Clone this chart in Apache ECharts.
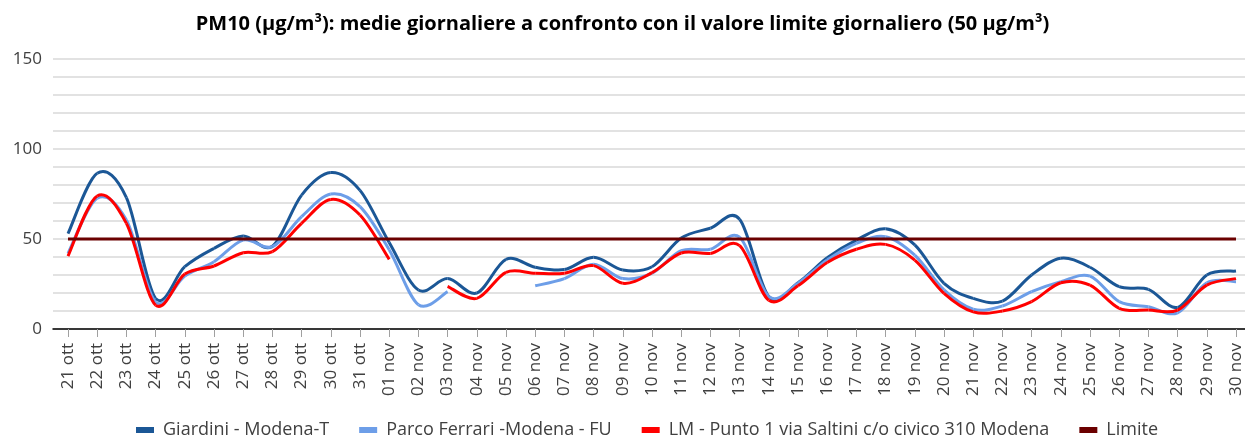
<!DOCTYPE html>
<html>
<head>
<meta charset="utf-8">
<script src="https://cdn.jsdelivr.net/npm/echarts@6/dist/echarts.min.js"></script>
<style>
  html, body { margin: 0; padding: 0; background: #fff; }
  #chart { width: 1245px; height: 439px; }
</style>
</head>
<body>
<div id="chart"></div>
<script>
// PM10 daily means, Modena stations

let days = ["21 ott", "22 ott", "23 ott", "24 ott", "25 ott", "26 ott", "27 ott", "28 ott", "29 ott", "30 ott", "31 ott",
    "01 nov", "02 nov", "03 nov", "04 nov", "05 nov", "06 nov", "07 nov", "08 nov", "09 nov", "10 nov",
    "11 nov", "12 nov", "13 nov", "14 nov", "15 nov", "16 nov", "17 nov", "18 nov", "19 nov", "20 nov",
    "21 nov", "22 nov", "23 nov", "24 nov", "25 nov", "26 nov", "27 nov", "28 nov", "29 nov", "30 nov"];

let giardini = [53, 86.5, 73, 17, 34.6, 44.8, 51.7, 46, 74.4, 86.9, 77,
    48, 21.7, 28, 20, 38.7, 34.3, 33, 39.8, 32.8, 34.6,
    50.5, 56, 61, 18, 25.7, 39.6, 49.4, 55.7, 46.7, 25.4,
    17, 15.5, 30, 39.3, 34.3, 23.5, 22, 12, 30, 32.2];

let parco_ferrari = [42, 72.6, 60.5, 15, 29.4, 37.4, 49.4, 45.7, 62.4, 75, 68,
    44, 13.5, 20.7, null, null, 24, 28, 36, 28, 31,
    43.5, 44.3, 51, 18, 25.4, 38.3, 47.6, 51.3, 41, 21.7,
    11, 12.8, 20.7, 26.3, 29.4, 15.2, 12.4, 9, 25.7, 26.3];

let lm_saltini = [40.5, 73.9, 58.7, 13.3, 30.5, 35, 42.4, 43, 58.7, 72, 63.3,
    38.7, null, 23.7, 17, 31.5, 31, 31, 35.2, 25.4, 31.3,
    42.2, 42, 46.3, 16, 24, 36.9, 44.3, 47, 38.3, 19.8,
    9.5, 10, 15.2, 25.7, 24.4, 11.5, 10.5, 10.5, 24.4, 28];

let limite = [50, 50, 50, 50, 50, 50, 50, 50, 50, 50, 50,
    50, 50, 50, 50, 50, 50, 50, 50, 50, 50,
    50, 50, 50, 50, 50, 50, 50, 50, 50, 50,
    50, 50, 50, 50, 50, 50, 50, 50, 50, 50];

let y_ticks = [0, 50, 100, 150];

let chart = echarts.init(document.getElementById("chart"));

// Excel-like smoothed line: one cubic bezier per segment (Catmull-Rom, tension 1/6)
function make_smooth_line(name, values, color) {
    return {
        name: name,
        type: "custom",
        xAxisIndex: 1,
        yAxisIndex: 1,
        data: values.map(function (v, i) { return [i, v]; }),
        encode: { x: 0, y: 1 },
        itemStyle: { color: color },
        renderItem: function (params, api) {
            let i = params.dataIndex;
            let v0 = values[i], v1 = values[i + 1];
            if (v0 == null || v1 == null) return null;
            let p0 = api.coord([i, v0]);
            let p1 = api.coord([i + 1, v1]);
            let pm = (i > 0 && values[i - 1] != null) ? api.coord([i - 1, values[i - 1]]) : p0;
            let p2 = (i + 2 < values.length && values[i + 2] != null) ? api.coord([i + 2, values[i + 2]]) : p1;
            return {
                type: "bezierCurve",
                shape: {
                    x1: p0[0], y1: p0[1],
                    x2: p1[0], y2: p1[1],
                    cpx1: p0[0] + (p1[0] - pm[0]) / 6,
                    cpy1: p0[1] + (p1[1] - pm[1]) / 6,
                    cpx2: p1[0] - (p2[0] - p0[0]) / 6,
                    cpy2: p1[1] - (p2[1] - p0[1]) / 6
                },
                style: { stroke: color, lineWidth: 3, fill: null }
            };
        }
    };
}

let option = {
    animation: false,
    backgroundColor: "#fff",
    textStyle: { fontFamily: "Open Sans" },
    title: {
        text: "PM10 (µg/m³): medie giornaliere a confronto con il valore limite giornaliero (50 µg/m³)",
        left: "center",
        top: 9,
        textStyle: { fontSize: 20, fontWeight: "bold", color: "#000", fontFamily: "Open Sans" }
    },
    legend: {
        top: 416,
        left: 131,
        itemWidth: 18,
        itemHeight: 6,
        itemGap: 30,
        icon: "rect",
        textStyle: { fontSize: 18, color: "#404040", fontFamily: "Open Sans", padding: [0, 0, 0, 4] },
        data: ["Giardini - Modena-T", "Parco Ferrari -Modena - FU", "LM - Punto 1 via Saltini c/o civico 310 Modena", "Limite"]
    },
    grid: [
        // background grid: gridlines + axis line across full width
        { left: 53, right: 0, top: 59, bottom: 110 },
        // data grid: first/last day sit on the tick marks
        { left: 68, right: 9, top: 59, bottom: 110 }
    ],
    xAxis: [
        {
            gridIndex: 0, type: "value", min: 0, max: 1,
            axisLine: { show: true, lineStyle: { color: "#000", width: 1.5 } },
            axisTick: { show: false }, axisLabel: { show: false }, splitLine: { show: false }
        },
        {
            gridIndex: 1, type: "category", data: days, boundaryGap: false,
            axisLine: { show: false },
            axisTick: { show: true, length: 8, alignWithLabel: true, lineStyle: { color: "#a0a0a0" } },
            axisLabel: { rotate: 90, margin: 14, fontSize: 17, color: "#404040", interval: 0 }
        }
    ],
    yAxis: [
        {
            gridIndex: 0, type: "value", min: 0, max: 150, interval: 10,
            axisLine: { show: false }, axisTick: { show: false },
            splitLine: { lineStyle: { color: "#d9d9d9", width: 1.5 } },
            axisLabel: {
                fontSize: 17, color: "#404040", margin: 11,
                formatter: function (v) { return y_ticks.indexOf(v) >= 0 ? String(v) : ""; }
            }
        },
        {
            gridIndex: 1, type: "value", min: 0, max: 150,
            axisLine: { show: false }, axisTick: { show: false },
            axisLabel: { show: false }, splitLine: { show: false }
        }
    ],
    series: [
        make_smooth_line("Giardini - Modena-T", giardini, "#1b5796"),
        make_smooth_line("Parco Ferrari -Modena - FU", parco_ferrari, "#6d9ee8"),
        make_smooth_line("LM - Punto 1 via Saltini c/o civico 310 Modena", lm_saltini, "#ff0000"),
        {
            name: "Limite",
            type: "line",
            xAxisIndex: 1,
            yAxisIndex: 1,
            data: limite,
            symbol: "none",
            lineStyle: { color: "#6b0000", width: 3 },
            itemStyle: { color: "#6b0000" }
        }
    ]
};

chart.setOption(option);
</script>
</body>
</html>
